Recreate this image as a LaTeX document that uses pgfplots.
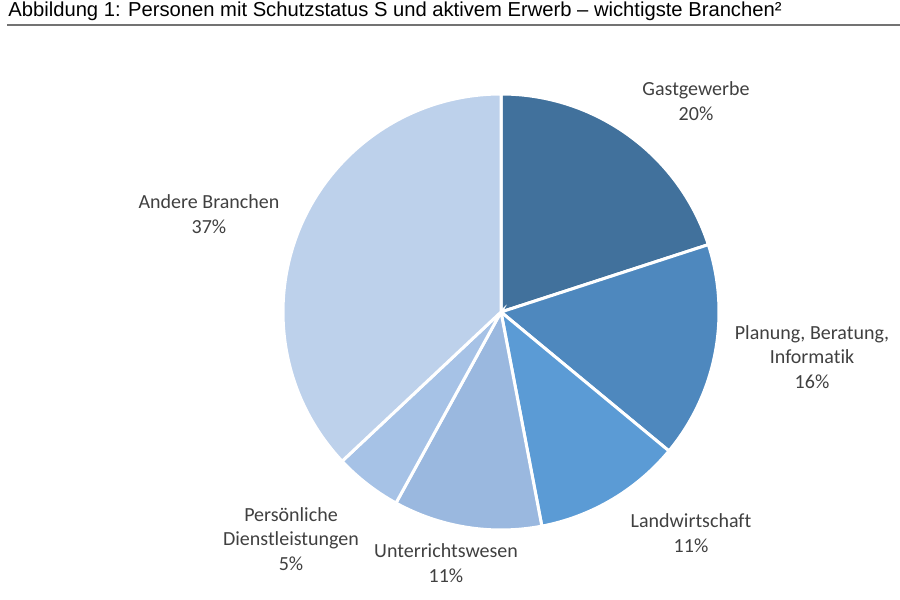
\documentclass[border=0pt]{standalone}
\usepackage{pgfplots}
\pgfplotsset{compat=1.18}
\usepackage{fontspec}
\setmainfont{Carlito}[Ligatures=NoCommon]
\newfontfamily\arial{Liberation Sans}

\definecolor{c1}{HTML}{41719C}
\definecolor{c2}{HTML}{4E88BE}
\definecolor{c3}{HTML}{5B9BD5}
\definecolor{c4}{HTML}{9AB8DF}
\definecolor{c5}{HTML}{A6C2E6}
\definecolor{c6}{HTML}{BDD1EB}
\definecolor{txt}{HTML}{404040}

\begin{document}
\begin{tikzpicture}
\begin{axis}[
  x=0.5pt, y=0.5pt,
  xmin=0, xmax=900, ymin=0, ymax=600,
  hide axis, clip=false,
  enlargelimits=false,
]
% shares in percent, clockwise from 12 o'clock
\gdef\startang{90}
\foreach \v/\c in {20/c1,16/c2,11/c3,11/c4,5/c5,37/c6} {
  \pgfmathsetmacro\endang{\startang-3.6*\v}
  \edef\temp{\noexpand\filldraw[fill=\c, draw=white, line width=1.5pt]
    (axis cs:501,288) -- ++(\startang:109pt)
    arc[start angle=\startang, end angle=\endang, radius=109pt] -- cycle;}
  \temp
  \xdef\startang{\endang}
}
\begin{scope}[every node/.style={align=center, text=txt,
    font=\fontsize{10}{12.3}\selectfont}]
\node at (axis cs:696,499) {Gastgewerbe\\20\%};
\node at (axis cs:812,243) {Planung, Beratung,\\Informatik\\16\%};
\node at (axis cs:691,67) {Landwirtschaft\\11\%};
\node at (axis cs:446,37) {Unterrichtswesen\\11\%};
\node at (axis cs:291,61) {Persönliche\\Dienstleistungen\\5\%};
\node at (axis cs:209,386) {Andere Branchen\\37\%};
\end{scope}
\node[anchor=base west, inner sep=0pt, font=\arial\fontsize{10.1}{11}\selectfont]
  at (axis cs:8,583) {Abbildung 1: Personen mit Schutzstatus S und aktivem Erwerb – wichtigste Branchen²};
\draw[black!55, line width=0.9pt] (axis cs:7,575) -- (axis cs:900,575);
\end{axis}
\pgfresetboundingbox
\path (current axis.south west) rectangle (current axis.north east);
\end{tikzpicture}
\end{document}
